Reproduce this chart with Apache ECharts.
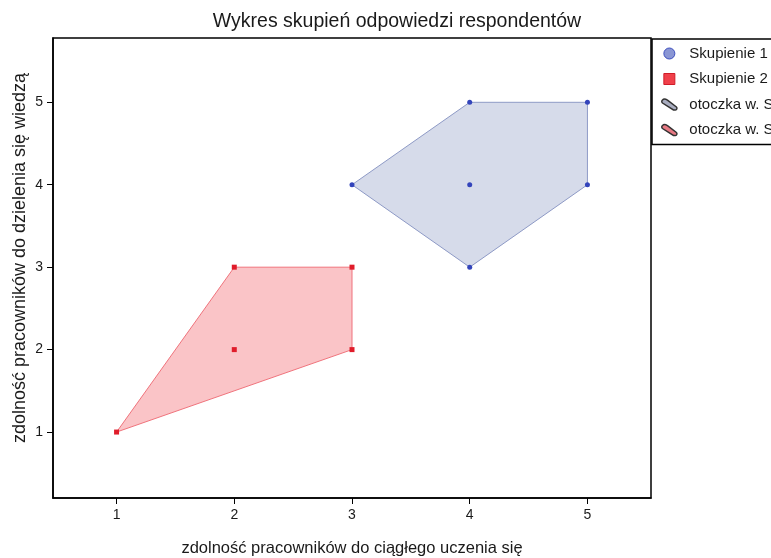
<!DOCTYPE html>
<html>
<head>
<meta charset="utf-8">
<script src="https://cdn.jsdelivr.net/npm/echarts@6/dist/echarts.min.js"></script>
<style>
  html, body { margin: 0; padding: 0; background: #fff; }
  #chart { width: 771px; height: 558px; }
</style>
</head>
<body>
<div id="chart"></div>
<script>
// Cluster members: [x, y] = [continuous learning ability, knowledge sharing ability]
const cluster1Points = [[3, 4], [4, 5], [5, 5], [5, 4], [4, 3], [4, 4]];
const cluster2Points = [[1, 1], [2, 3], [3, 3], [3, 2], [2, 2]];
// Convex hulls of each cluster (vertex order around the polygon)
const cluster1Hull = [[3, 4], [4, 5], [5, 5], [5, 4], [4, 3]];
const cluster2Hull = [[1, 1], [2, 3], [3, 3], [3, 2]];
const tickValues = [1, 2, 3, 4, 5];
const seriesNames = ['Skupienie 1', 'Skupienie 2', 'otoczka w. Skupienie 1', 'otoczka w. Skupienie 2'];

const font = '"Liberation Sans", Arial, sans-serif';
const hullIcon = 'path://M1,1 C2,-0.5 4,-0.3 6,1 L15,8 C16,9 15.5,11 14,11 L12,11 L1,4 C0,3 0,2 1,1 Z';
const squareIcon = 'path://M0,0 H10 V10 H0 Z';

function hullSeries(name, hull, fill, stroke) {
  return {
    name: name,
    type: 'custom',
    z: 1,
    itemStyle: { color: fill, borderColor: stroke },
    data: [0],
    renderItem: function (params, api) {
      const pts = hull.map(function (p) { return api.coord(p); });
      return {
        type: 'polygon',
        shape: { points: pts },
        style: { fill: fill, stroke: stroke, lineWidth: 1 }
      };
    }
  };
}

const chart = echarts.init(document.getElementById('chart'), null, { renderer: 'canvas' });
chart.setOption({
  animation: false,
  backgroundColor: '#ffffff',
  title: {
    text: 'Wykres skupień odpowiedzi respondentów',
    left: 392,
    top: 7,
    textAlign: 'center',
    textStyle: { fontFamily: font, fontSize: 19.5, fontWeight: 'normal', color: '#1a1a1a' }
  },
  legend: {
    orient: 'vertical',
    left: 652,
    top: 39,
    padding: [7, 10, 7, 9],
    itemGap: 10.5,
    itemWidth: 16,
    itemHeight: 11,
    symbolKeepAspect: true,
    borderColor: '#000',
    borderWidth: 1.5,
    borderRadius: 0,
    backgroundColor: '#fff',
    textStyle: { fontFamily: font, fontSize: 15, color: '#1a1a1a', padding: [0, 0, 0, 7] },
    data: [
      { name: seriesNames[0], icon: 'circle', itemStyle: { color: '#8a96d4', borderColor: '#3d4fbf', borderWidth: 1 } },
      { name: seriesNames[1], icon: squareIcon, itemStyle: { color: '#f0404a', borderColor: '#d01c28', borderWidth: 1 } },
      { name: seriesNames[2], icon: hullIcon, itemStyle: { color: '#a9adc0', borderColor: '#333', borderWidth: 1.5 } },
      { name: seriesNames[3], icon: hullIcon, itemStyle: { color: '#e87a84', borderColor: '#333', borderWidth: 1.5 } }
    ]
  },
  grid: {
    left: 53,
    right: 120,
    top: 38,
    bottom: 60,
    containLabel: false,
    outerBoundsMode: 'none',
    show: true,
    borderColor: '#000',
    borderWidth: 1.5,
    backgroundColor: '#fff'
  },
  xAxis: {
    type: 'value',
    min: 0.46,
    max: 5.54,
    name: 'zdolność pracowników do ciągłego uczenia się',
    nameLocation: 'middle',
    nameGap: 42,
    nameMoveOverlap: false,
    nameTextStyle: { fontFamily: font, fontSize: 16.5, color: '#1a1a1a' },
    axisLine: { show: true, lineStyle: { color: '#000', width: 1.5 } },
    axisTick: { show: true, inside: false, length: 6, customValues: tickValues, lineStyle: { color: '#000' } },
    axisLabel: { customValues: tickValues, fontFamily: font, fontSize: 14, color: '#1a1a1a', margin: 10 },
    splitLine: { show: false }
  },
  yAxis: {
    type: 'value',
    min: 0.2,
    max: 5.78,
    name: 'zdolność pracowników do dzielenia się wiedzą',
    nameLocation: 'middle',
    nameGap: 24,
    nameMoveOverlap: false,
    nameTextStyle: { fontFamily: font, fontSize: 18, color: '#1a1a1a', padding: [0, 0, 0, 20] },
    axisLine: { show: true, lineStyle: { color: '#000', width: 1.5 } },
    axisTick: { show: true, inside: false, length: 6, customValues: tickValues, lineStyle: { color: '#000' } },
    axisLabel: { customValues: tickValues, fontFamily: font, fontSize: 14, color: '#1a1a1a', margin: 10 },
    splitLine: { show: false }
  },
  series: [
    {
      name: seriesNames[0],
      type: 'scatter',
      z: 3,
      symbol: 'circle',
      symbolSize: 5,
      itemStyle: { color: '#3344bb', opacity: 1 },
      data: cluster1Points
    },
    {
      name: seriesNames[1],
      type: 'scatter',
      z: 3,
      symbol: 'rect',
      symbolSize: 5,
      itemStyle: { color: '#e01c2a', opacity: 1 },
      data: cluster2Points
    },
    hullSeries(seriesNames[2], cluster1Hull, '#d6dbea', '#8e9ac6'),
    hullSeries(seriesNames[3], cluster2Hull, '#fac4c7', '#f0737c')
  ]
});
</script>
</body>
</html>
